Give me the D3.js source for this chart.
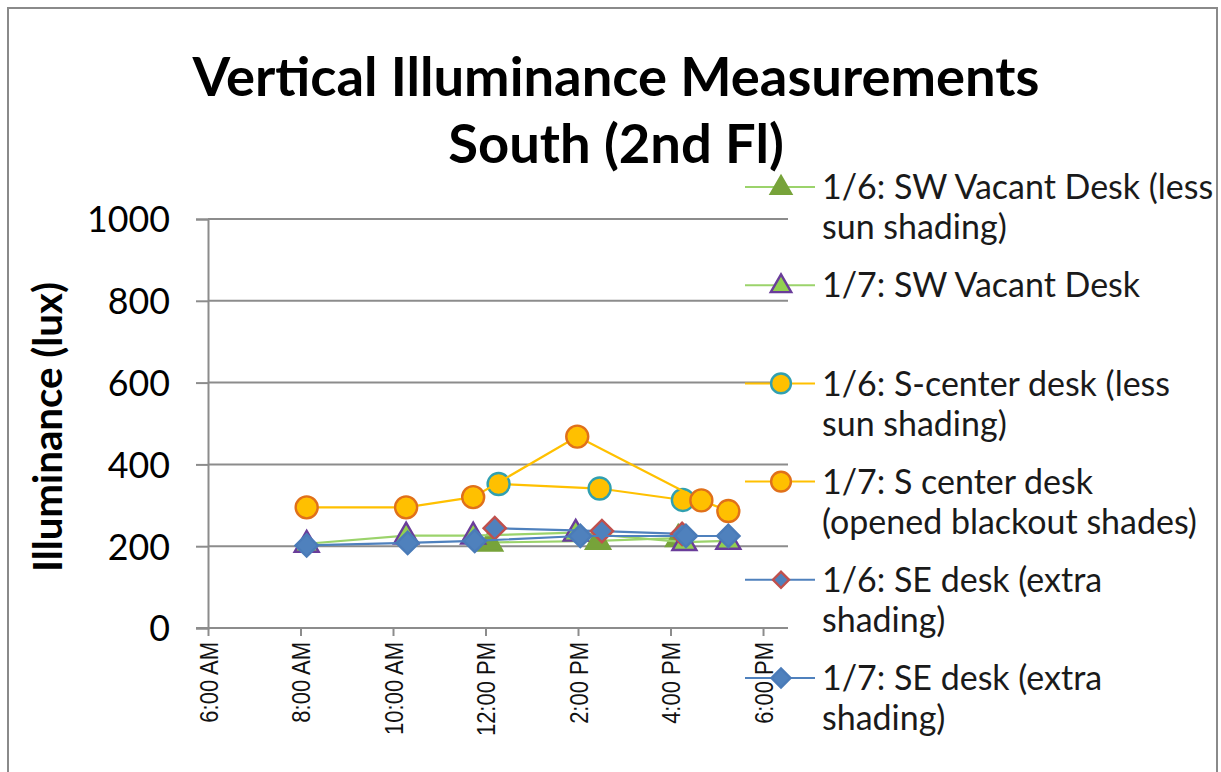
<!DOCTYPE html>
<html><head><meta charset="utf-8">
<script src="https://cdn.jsdelivr.net/npm/d3@7"></script>
<style>html,body{margin:0;padding:0;background:#fff;} svg{display:block}</style>
</head><body>
<svg id="chart" width="1221" height="772"></svg>
<script>
// ---------- DATA ----------
const titleLines = ["Vertical Illuminance Measurements", "South (2nd Fl)"];
const yAxisTitle = "Illuminance (lux)";
const yTicks = [0, 200, 400, 600, 800, 1000];
const xTickTimes = ["6:00", "8:00", "10:00", "12:00", "14:00", "16:00", "18:00"];
const xTickLabels = ["6:00 AM", "8:00 AM", "10:00 AM", "12:00 PM", "2:00 PM", "4:00 PM", "6:00 PM"];

const sw6Times  = ["12:06", "14:26", "16:10"];
const sw6Values = [209, 213, 220];
const sw7Times  = ["8:08", "10:17", "11:44", "13:57", "16:18", "17:15"];
const sw7Values = [206, 226, 226, 233, 210, 213];
const sc6Times  = ["12:17", "14:28", "16:16"];
const sc6Values = [352, 341, 313];
const sc7Times  = ["8:08", "10:17", "11:44", "13:59", "16:40", "17:15"];
const sc7Values = [295, 295, 320, 468, 312, 286];
const se6Times  = ["12:12", "14:31", "16:15"];
const se6Values = [244, 237, 230];
const se7Times  = ["8:08", "10:19", "11:46", "14:03", "16:20", "17:15"];
const se7Values = [202, 208, 213, 225, 225, 225];

const legendLines = [
  ["1/6: SW Vacant Desk (less", "sun shading)"],
  ["1/7: SW Vacant Desk"],
  ["1/6: S-center desk (less", "sun shading)"],
  ["1/7: S center desk", "(opened blackout shades)"],
  ["1/6: SE desk (extra", "shading)"],
  ["1/7: SE desk (extra", "shading)"]
];

// ---------- STYLES ----------
const styles = [
  {shape: "triangle", line: "#9BD36B", fill: "#77A33A", stroke: "#77A33A", legendScale: 0.85},
  {shape: "triangle", line: "#9BD36B", fill: "#92D050", stroke: "#6A3D9A", legendScale: 0.85},
  {shape: "circle",   line: "#FFC000", fill: "#FFC000", stroke: "#31A0B0", legendScale: 0.9},
  {shape: "circle",   line: "#FFC000", fill: "#FFC000", stroke: "#E0701A", legendScale: 0.9},
  {shape: "diamond",  line: "#4F81BD", fill: "#4F81BD", stroke: "#C0504D", legendScale: 0.72},
  {shape: "diamond",  line: "#4F81BD", fill: "#4F81BD", stroke: "#4A7BB8", legendScale: 0.85}
];

const toHours = s => { const [h, m] = s.split(":").map(Number); return h + m / 60; };
const series = [
  [sw6Times, sw6Values], [sw7Times, sw7Values], [sc6Times, sc6Values],
  [sc7Times, sc7Values], [se6Times, se6Values], [se7Times, se7Values]
].map(([t, v], i) => ({
  style: styles[i],
  legend: legendLines[i],
  points: t.map((tt, j) => ({x: toHours(tt), y: v[j]}))
}));

// ---------- LAYOUT ----------
const svg = d3.select("#chart");
const font = "Lato, 'Open Sans', sans-serif";
const plot = {left: 208, right: 788, top: 219, bottom: 628};

svg.append("rect").attr("x", 8).attr("y", 8).attr("width", 1209).attr("height", 780)
  .attr("fill", "#fff").attr("stroke", "#8a8a8a").attr("stroke-width", 2);

const x = d3.scaleLinear().domain([6, 18.54]).range([plot.left, plot.right]);
const y = d3.scaleLinear().domain([0, 1000]).range([plot.bottom, plot.top]);

function fitFont(sel, target) {
  sel.style("font-size", "100px");
  const w = sel.node().getComputedTextLength();
  const fs = 100 * target / w;
  sel.style("font-size", fs + "px");
  return fs;
}

// Title
const t1 = svg.append("text").attr("x", 616).attr("y", 96).attr("text-anchor", "middle")
  .style("font-family", font).style("font-weight", "bold").attr("fill", "#000").text(titleLines[0]);
const tfs = fitFont(t1, 847);
svg.append("text").attr("x", 616).attr("y", 163).attr("text-anchor", "middle")
  .style("font-family", font).style("font-weight", "bold").style("font-size", tfs + "px")
  .attr("fill", "#000").text(titleLines[1]);

// Gridlines
svg.append("g").selectAll("line").data(yTicks.filter(d => d > 0)).join("line")
  .attr("x1", plot.left).attr("x2", plot.right)
  .attr("y1", d => y(d)).attr("y2", d => y(d))
  .attr("stroke", "#8c8c8c").attr("stroke-width", 2);

// Y axis
const yAxis = svg.append("g").attr("transform", `translate(${plot.left},0)`)
  .call(d3.axisLeft(y).tickValues(yTicks).tickSize(12).tickPadding(0).tickFormat(d3.format("d")));
yAxis.select(".domain").attr("stroke", "#8c8c8c").attr("stroke-width", 2);
yAxis.selectAll(".tick line").attr("stroke", "#8c8c8c").attr("stroke-width", 2);
yAxis.selectAll(".tick text").attr("x", -38).attr("dy", "0.36em")
  .style("font-family", font).attr("fill", "#000");
const ylab = yAxis.selectAll(".tick text").filter(d => d === 1000);
const yfs = fitFont(ylab, 83);
yAxis.selectAll(".tick text").style("font-size", yfs + "px");

// X axis
const xAxis = svg.append("g").attr("transform", `translate(0,${plot.bottom})`)
  .call(d3.axisBottom(x).tickValues(xTickTimes.map(toHours)).tickSize(8)
    .tickFormat((d, i) => xTickLabels[i]));
xAxis.attr("font-size", null);
xAxis.select(".domain").attr("d", `M${plot.left - 12},0H${plot.right}`)
  .attr("stroke", "#8c8c8c").attr("stroke-width", 2);
xAxis.selectAll(".tick line").attr("stroke", "#8c8c8c").attr("stroke-width", 2);
xAxis.selectAll(".tick text")
  .attr("transform", "translate(0,14) rotate(-90) scale(1,1.15)").attr("x", 0).attr("y", 0).attr("dy", "0.36em")
  .attr("text-anchor", "end")
  .style("font-family", "'Liberation Sans', Arial, sans-serif").style("font-size", "22px")
  .attr("fill", "#111");

// Y axis title
const yt = svg.append("text").attr("transform", "translate(62,427) rotate(-90)")
  .attr("text-anchor", "middle").style("font-family", font).style("font-weight", "bold")
  .attr("fill", "#000").text(yAxisTitle);
fitFont(yt, 290);

// Markers
function drawMarker(g, shape, cx, cy, scale, st) {
  let el;
  if (shape === "circle") {
    el = g.append("circle").attr("cx", cx).attr("cy", cy).attr("r", 11 * scale);
  } else if (shape === "triangle") {
    el = g.append("path").attr("d", d3.symbol(d3.symbolTriangle, 250 * scale * scale)())
      .attr("transform", `translate(${cx},${cy + 1})`);
  } else {
    el = g.append("path").attr("d", d3.symbol(d3.symbolSquare, 250 * scale * scale)())
      .attr("transform", `translate(${cx},${cy}) rotate(45)`);
  }
  el.attr("fill", st.fill).attr("stroke", st.stroke).attr("stroke-width", 2.4);
}

const line = d3.line().x(d => x(d.x)).y(d => y(d.y));
const gSeries = svg.append("g");
series.forEach(s => {
  const g = gSeries.append("g");
  g.append("path").attr("d", line(s.points)).attr("fill", "none")
    .attr("stroke", s.style.line).attr("stroke-width", 2.2);
  s.points.forEach(p => drawMarker(g, s.style.shape, x(p.x), y(p.y), 1, s.style));
});

// Legend
const legendX = 822, legendTop = 187, legendStep = 98.2, lineH = 40;
const lg = svg.append("g");
const probe = lg.append("text").style("font-family", font).text("(opened blackout shades)");
const lfs = fitFont(probe, 375);
probe.remove();
series.forEach((s, i) => {
  const cy = legendTop + i * legendStep;
  lg.append("line").attr("x1", 745).attr("x2", 815).attr("y1", cy).attr("y2", cy)
    .attr("stroke", s.style.line).attr("stroke-width", 2);
  drawMarker(lg, s.style.shape, 781, cy, s.style.legendScale, s.style);
  s.legend.forEach((ln, k) => {
    lg.append("text").attr("x", legendX).attr("y", cy + k * lineH).attr("dy", "0.36em")
      .style("font-family", font).style("font-size", lfs + "px").attr("fill", "#1a1a1a").text(ln);
  });
});
</script>
</body></html>
